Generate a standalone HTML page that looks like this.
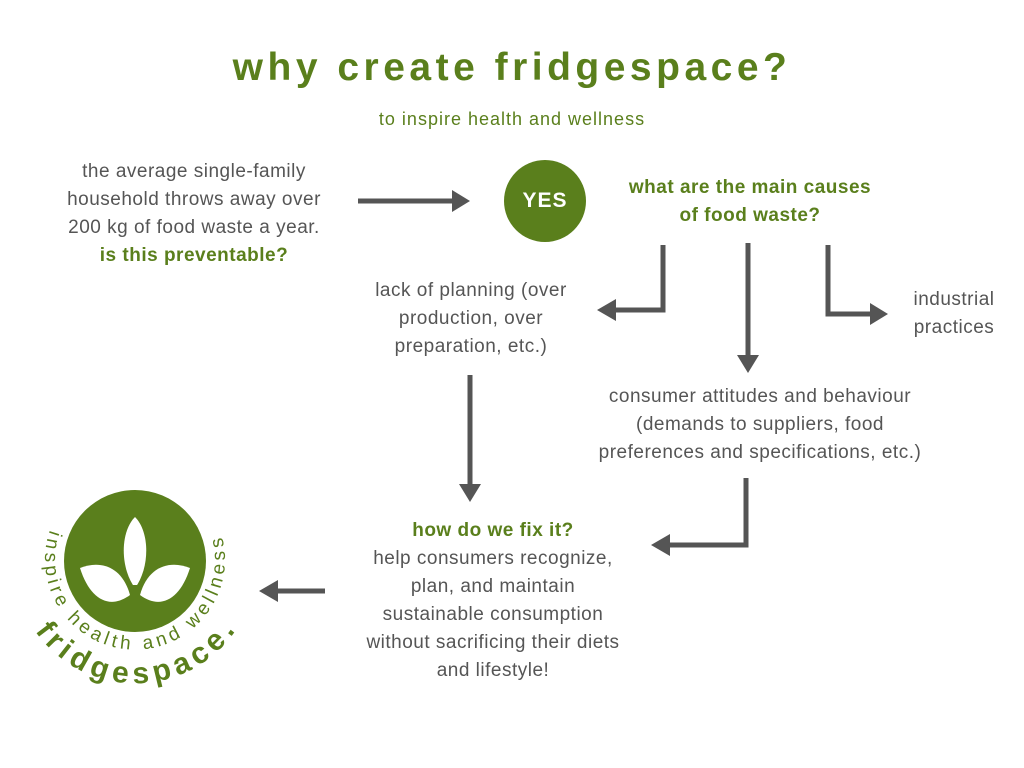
<!DOCTYPE html>
<html><head><meta charset="utf-8"><style>
body{margin:0;width:1024px;height:768px;background:#fff;overflow:hidden;font-family:"Liberation Sans",sans-serif;position:relative}
.t{position:absolute;text-align:center;color:#555;font-size:19px;line-height:28px;letter-spacing:0.5px}
.g{color:#5a7f1c;font-weight:bold}
</style></head><body>
<div class="t" style="left:0;width:1024px;top:44px;font-size:39px;line-height:48px;color:#5a7f1c;letter-spacing:4.5px;font-weight:bold">why create fridgespace?</div>
<div class="t" style="left:0;width:1024px;top:105px;font-size:18px;color:#5a7f1c;letter-spacing:1px">to inspire health and wellness</div>
<div class="t" style="left:36px;width:316px;top:158px">the average single-family<br>household throws away over<br>200 kg of food waste a year.<br><span class="g">is this preventable?</span></div>
<div style="position:absolute;left:504px;top:160px;width:82px;height:82px;border-radius:50%;background:#5a7f1c;color:#fff;font-weight:bold;font-size:21px;line-height:82px;text-align:center;letter-spacing:1px">YES</div>
<div class="t g" style="left:590px;width:320px;top:174px">what are the main causes<br>of food waste?</div>
<div class="t" style="left:350px;width:242px;top:277px">lack of planning (over production, over preparation, etc.)</div>
<div class="t" style="left:895px;width:118px;top:286px">industrial<br>practices</div>
<div class="t" style="left:555px;width:410px;top:383px">consumer attitudes and behaviour<br>(demands to suppliers, food<br>preferences and specifications, etc.)</div>
<div class="t" style="left:330px;width:326px;top:517px"><span class="g">how do we fix it?</span><br>help consumers recognize,<br>plan, and maintain<br>sustainable consumption<br>without sacrificing their diets<br>and lifestyle!</div>
<svg width="1024" height="768" style="position:absolute;left:0;top:0">
<g fill="none" stroke="#555" stroke-width="5">
<path d="M358 201H452"/><path d="M663 245V310H616"/><path d="M748 243V355"/><path d="M828 245V314H870"/><path d="M470 375V484"/><path d="M746 478V545H670"/><path d="M325 591H278"/>
</g>
<g fill="#555">
<path d="M470 201L452 190V212Z"/><path d="M597 310L616 299V321Z"/><path d="M748 373L737 355H759Z"/><path d="M888 314L870 303V325Z"/><path d="M470 502L459 484H481Z"/><path d="M651 545L670 534V556Z"/><path d="M259 591L278 580V602Z"/>
</g>
<g>
<circle cx="135" cy="561" r="71" fill="#5a7f1c"/>
<path d="M135 517C150 532 150 568 135 588C120 568 120 532 135 517Z" fill="#fff"/>
<path d="M80 568C100 560 122 566 130 595C110 610 90 600 80 568Z" fill="#fff"/>
<path d="M190 568C170 560 148 566 140 595C160 610 180 600 190 568Z" fill="#fff"/>
<rect x="131" y="585" width="8" height="30" fill="#5a7f1c"/>
<defs>
<path id="a1" d="M50 530A90 90 0 1 0 220 530"/>
<path id="a2" d="M35 631A122 122 0 0 0 241 622"/>
</defs>
<text font-size="19" fill="#5a7f1c" font-family="Liberation Sans,sans-serif"><textPath href="#a1" textLength="335" lengthAdjust="spacing">inspire health and wellness</textPath></text>
<text font-size="30" font-weight="bold" fill="#5a7f1c" font-family="Liberation Sans,sans-serif"><textPath href="#a2" textLength="235" lengthAdjust="spacing">fridgespace.</textPath></text>
</g>
</svg>
</body></html>
